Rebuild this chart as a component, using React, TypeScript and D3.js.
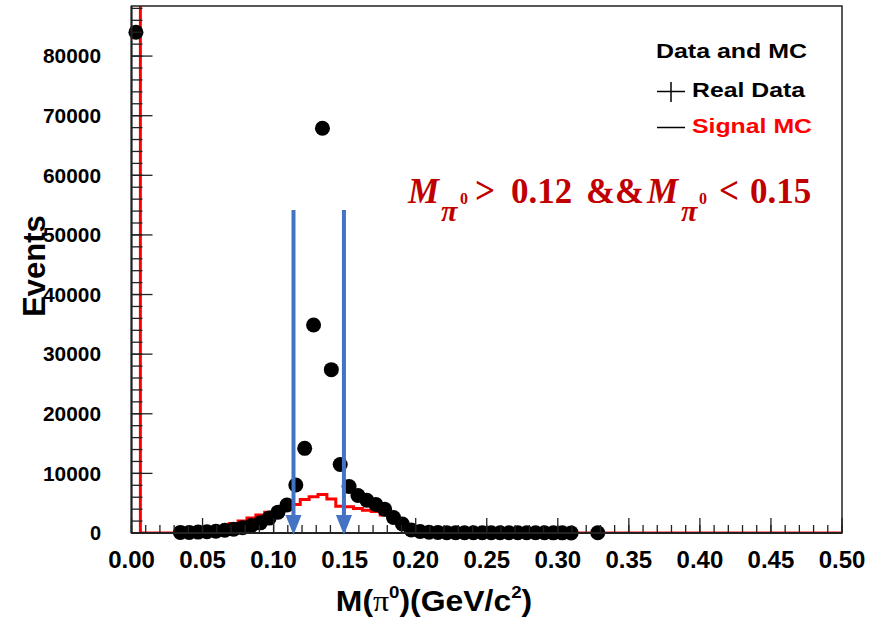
import * as d3 from "d3";

const BIN_WIDTH = 0.00625;

// Real data: counts per bin (null = empty bin, not drawn)
const dataCounts: (number | null)[] = [
  84000, null, null, null, null, 100, 100, 150, 200, 300,
  450, 650, 900, 1250, 1700, 2500, 3500, 4700, 8050, 14200,
  34900, 67900, 27400, 11500, 7800, 6300, 5500, 4800, 4000, 2600,
  1500, 500, 250, 120, 80, 60, 55, 50, 45, 45,
  40, 40, 35, 35, 30, 30, 30, 25, 25, 20,
  null, null, 30,
];

// Signal MC histogram: counts per bin, 80 bins over 0-0.5
const mcCounts: number[] = [
  150000, 0, 0, 0, 0, 0, 0, 0, 400, 800,
  1100, 1600, 2000, 2500, 3000, 3500, 4000, 4300, 4800, 5600,
  6100, 6450, 5700, 4500, 4400, 4100, 3800, 3600, 3000, 2000,
  1100, 550, 250, 120, 40, 0, 0, 0, 0, 0,
  0, 0, 0, 0, 0, 0, 0, 0, 0, 0,
  0, 0, 0, 0, 0, 0, 0, 0, 0, 0,
  0, 0, 0, 0, 0, 0, 0, 0, 0, 0,
  0, 0, 0, 0, 0, 0, 0, 0, 0, 0,
];

const cutArrows = [0.114, 0.1495];
const arrowTop = 54200;

const xTickValues = d3.range(0, 0.5001, 0.05);
const xMinorValues = d3.range(0, 0.5001, 0.01);
const yTickValues = d3.range(0, 80001, 10000);
const yMinorValues = d3.range(0, 88001, 2000);

const W = 871;
const H = 631;
const LEFT = 131.5;
const RIGHT = 842;
const TOP = 6;
const BOTTOM = 533;

const SANS = "'Liberation Sans', Arial, sans-serif";
const SERIF = "'Liberation Serif', 'Times New Roman', serif";
const CUT_RED = "#C00000";
const ARROW_BLUE = "#4472C4";

export default function App() {
  const x = d3.scaleLinear().domain([0, 0.5]).range([LEFT, RIGHT]);
  const y = d3.scaleLinear().domain([0, 88400]).range([BOTTOM, TOP]);

  const mcPoints: [number, number][] = mcCounts.map((c, i) => [x(i * BIN_WIDTH), y(c)]);
  mcPoints.push([x(mcCounts.length * BIN_WIDTH), y(mcCounts[mcCounts.length - 1])]);
  const mcPath = d3.line().curve(d3.curveStepAfter)(mcPoints) || "";

  const fmtX = d3.format(".2f");

  return (
    <div style={{ position: "absolute", left: 0, top: 0 }}>
      <svg width={W} height={H} style={{ display: "block", background: "#fff" }}>
        <defs>
          <clipPath id="plot">
            <rect x={LEFT} y={TOP} width={RIGHT - LEFT} height={BOTTOM - TOP} />
          </clipPath>
        </defs>

        {/* MC histogram */}
        <path d={mcPath} fill="none" stroke="#ff0000" strokeWidth={3} clipPath="url(#plot)" />

        {/* data points */}
        {dataCounts.map((c, i) =>
          c === null ? null : (
            <circle key={i} cx={x((i + 0.5) * BIN_WIDTH)} cy={y(c)} r={7.5} fill="#000" />
          )
        )}

        {/* frame */}
        <rect x={LEFT} y={TOP} width={RIGHT - LEFT} height={BOTTOM - TOP} fill="none" stroke="#222" strokeWidth={1.5} />
        <line x1={LEFT} x2={LEFT} y1={TOP} y2={BOTTOM} stroke="#222" strokeWidth={2} />
        <line x1={LEFT} x2={RIGHT} y1={BOTTOM} y2={BOTTOM} stroke="#222" strokeWidth={2} />

        {/* y ticks */}
        {yMinorValues.map((v) => (
          <line key={"ym" + v} x1={LEFT} x2={LEFT + 11} y1={y(v)} y2={y(v)} stroke="#222" strokeWidth={1.3} />
        ))}
        {yTickValues.map((v) => (
          <g key={"y" + v}>
            <line x1={LEFT} x2={LEFT + 21} y1={y(v)} y2={y(v)} stroke="#222" strokeWidth={1.3} />
            <text x={101} y={y(v)} dy="0.36em" textAnchor="end" fontFamily={SANS} fontWeight="bold" fontSize={20}
              textLength={v === 0 ? undefined : 58} lengthAdjust="spacingAndGlyphs">
              {v}
            </text>
          </g>
        ))}

        {/* x ticks */}
        {xMinorValues.map((v) => (
          <line key={"xm" + v} x1={x(v)} x2={x(v)} y1={BOTTOM} y2={BOTTOM - 8} stroke="#222" strokeWidth={1.3} />
        ))}
        {xTickValues.map((v) => (
          <g key={"x" + v}>
            <line x1={x(v)} x2={x(v)} y1={BOTTOM} y2={BOTTOM - 15} stroke="#222" strokeWidth={1.3} />
            <text x={x(v)} y={568} textAnchor="middle" fontFamily={SANS} fontWeight="bold" fontSize={24}>
              {fmtX(v)}
            </text>
          </g>
        ))}

        {/* axis titles */}
        <g transform="translate(434,0) scale(1.1,1) translate(-434,0)">
          <text x={434} y={611} textAnchor="middle" fontFamily={SANS} fontWeight="bold" fontSize={29}>
            M(
            <tspan fontFamily={SERIF} fontWeight="normal">π</tspan>
            <tspan fontSize={17} dy={-13}>0</tspan>
            <tspan dy={13}>)(GeV/c</tspan>
            <tspan fontSize={17} dy={-13}>2</tspan>
            <tspan dy={13}>)</tspan>
          </text>
        </g>
        <text transform="translate(45,266) rotate(-90)" textAnchor="middle" fontFamily={SANS} fontWeight="bold" fontSize={31}>
          Events
        </text>

        {/* legend */}
        <text x={656} y={58} fontFamily={SANS} fontWeight="bold" fontSize={20} textLength={151} lengthAdjust="spacingAndGlyphs">
          Data and MC
        </text>
        <line x1={657} x2={685} y1={91.5} y2={91.5} stroke="#000" strokeWidth={1.5} />
        <line x1={671} x2={671} y1={82} y2={102} stroke="#000" strokeWidth={1.5} />
        <text x={692} y={97} fontFamily={SANS} fontWeight="bold" fontSize={20} textLength={113} lengthAdjust="spacingAndGlyphs">
          Real Data
        </text>
        <line x1={657} x2={685} y1={127.5} y2={127.5} stroke="#000" strokeWidth={1.5} />
        <text x={692} y={133} fontFamily={SANS} fontWeight="bold" fontSize={20} fill="#ff0000" textLength={120} lengthAdjust="spacingAndGlyphs">
          Signal MC
        </text>

        {/* cut arrows */}
        {cutArrows.map((c) => (
          <g key={c}>
            <line x1={x(c)} x2={x(c)} y1={y(arrowTop)} y2={y(0) - 14} stroke={ARROW_BLUE} strokeWidth={4} />
            <path
              d={`M${x(c) - 8},${y(0) - 18} L${x(c) + 8},${y(0) - 18} L${x(c)},${y(0) + 2} Z`}
              fill={ARROW_BLUE}
            />
          </g>
        ))}

        {/* cut formula */}
        <g fill={CUT_RED} fontFamily={SERIF} fontWeight="bold">
          <text x={408} y={203} fontSize={35} fontStyle="italic">M</text>
          <text x={441} y={221} fontSize={30} fontStyle="italic">π</text>
          <text x={460} y={204} fontSize={16}>0</text>
          <text x={475} y={203} fontSize={38} textLength={20} lengthAdjust="spacingAndGlyphs">&gt;</text>
          <text x={511} y={203} fontSize={35}>0.12</text>
          <text x={586} y={203} fontSize={35} textLength={58} lengthAdjust="spacingAndGlyphs">&amp;&amp;</text>
          <text x={647} y={203} fontSize={35} fontStyle="italic">M</text>
          <text x={681} y={221} fontSize={30} fontStyle="italic">π</text>
          <text x={699} y={204} fontSize={16}>0</text>
          <text x={719} y={203} fontSize={38} textLength={20} lengthAdjust="spacingAndGlyphs">&lt;</text>
          <text x={750} y={203} fontSize={35}>0.15</text>
        </g>
      </svg>
    </div>
  );
}
